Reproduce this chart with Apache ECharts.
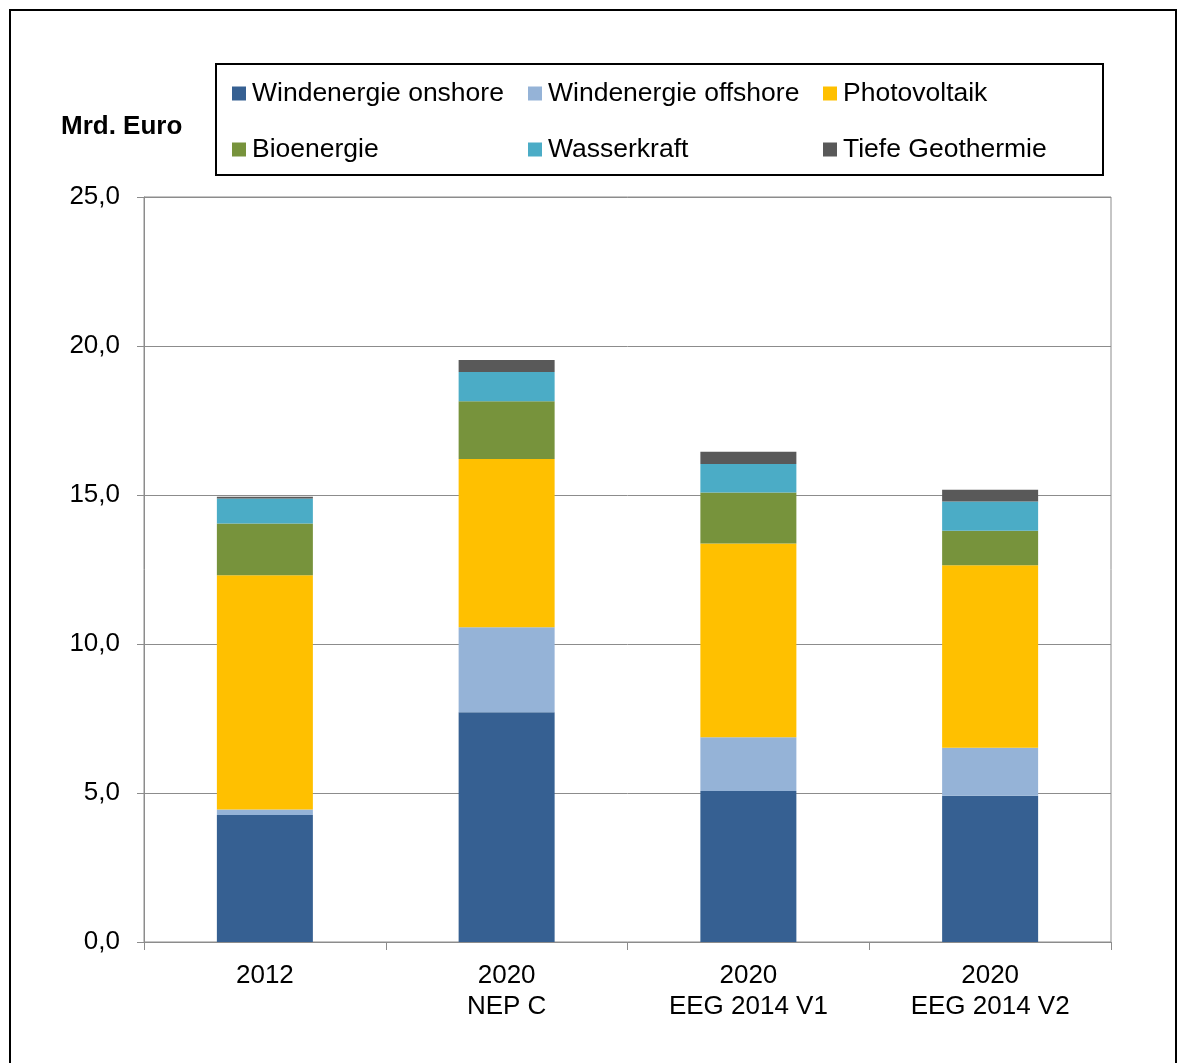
<!DOCTYPE html>
<html>
<head>
<meta charset="utf-8">
<script src="https://cdn.jsdelivr.net/npm/echarts@6/dist/echarts.min.js"></script>
<style>
html,body{margin:0;padding:0;background:#fff;}
#c{width:1184px;height:1063px;}
</style>
</head>
<body>
<div id="c"></div>
<script>
var categories = ['2012', '2020\nNEP C', '2020\nEEG 2014 V1', '2020\nEEG 2014 V2'];
var onshore  = [4.26, 7.71, 5.07, 4.91];
var offshore = [0.19, 2.85, 1.80, 1.61];
var pv       = [7.86, 5.65, 6.50, 6.12];
var bio      = [1.73, 1.94, 1.71, 1.16];
var wasser   = [0.84, 0.98, 0.96, 0.98];
var geo      = [0.06, 0.40, 0.41, 0.40];
var yTicks = [0, 5, 10, 15, 20, 25];

var names = ['Windenergie onshore', 'Windenergie offshore', 'Photovoltaik', 'Bioenergie', 'Wasserkraft', 'Tiefe Geothermie'];
var colors = ['#366092', '#95b3d7', '#ffc000', '#77933c', '#4bacc6', '#595959'];
var dataSets = [onshore, offshore, pv, bio, wasser, geo];
var FONT = 'Liberation Sans, Arial, sans-serif';

var legendPos = [[232, 80], [528, 80], [823, 80], [232, 136], [528, 136], [823, 136]];
var legends = names.map(function (n, i) {
  return {
    data: [n], left: legendPos[i][0], top: legendPos[i][1], padding: 0,
    icon: 'rect', itemWidth: 14, itemHeight: 14, itemGap: 0,
    selectedMode: false,
    textStyle: { fontSize: 26.5, color: '#000', fontFamily: FONT, padding: [0, 0, 0, 1] }
  };
});

var series = names.map(function (n, i) {
  return {
    name: n, type: 'bar', stack: 'total', barWidth: 96,
    itemStyle: { color: colors[i] },
    emphasis: { disabled: true },
    data: dataSets[i]
  };
});

var chart = echarts.init(document.getElementById('c'), null, { renderer: 'canvas' });
chart.setOption({
  animation: false,
  backgroundColor: '#fff',
  legend: legends,
  grid: { left: 144, right: 73, top: 197, bottom: 121, show: true, borderColor: '#8c8c8c', borderWidth: 1, backgroundColor: 'transparent' },
  xAxis: {
    type: 'category', data: categories,
    axisLine: { show: true, lineStyle: { color: '#8c8c8c', width: 1 } },
    axisTick: { show: true, length: 8, lineStyle: { color: '#8c8c8c' } },
    axisLabel: { color: '#000', fontSize: 26, fontFamily: FONT, margin: 18, lineHeight: 31 }
  },
  yAxis: {
    type: 'value', min: yTicks[0], max: yTicks[yTicks.length - 1], interval: 5,
    axisLine: { show: true, lineStyle: { color: '#8c8c8c', width: 1 } },
    axisTick: { show: true, length: 7, lineStyle: { color: '#8c8c8c' } },
    splitLine: { show: true, lineStyle: { color: '#8c8c8c', width: 1 } },
    axisLabel: {
      color: '#000', fontSize: 26, fontFamily: FONT, margin: 24, padding: [3, 0, 0, 0],
      formatter: function (v) { return v.toFixed(1).replace('.', ','); }
    }
  },
  graphic: [
    { type: 'rect', shape: { x: 10, y: 10, width: 1166, height: 1070 }, style: { fill: 'none', stroke: '#000', lineWidth: 2 }, silent: true },
    { type: 'rect', shape: { x: 216, y: 64, width: 887, height: 111 }, style: { fill: 'none', stroke: '#000', lineWidth: 2 }, silent: true },
    { type: 'text', left: 61, top: 114, style: { text: 'Mrd. Euro', font: 'bold 26px ' + FONT, fill: '#000' }, silent: true }
  ],
  series: series
});
</script>
</body>
</html>
